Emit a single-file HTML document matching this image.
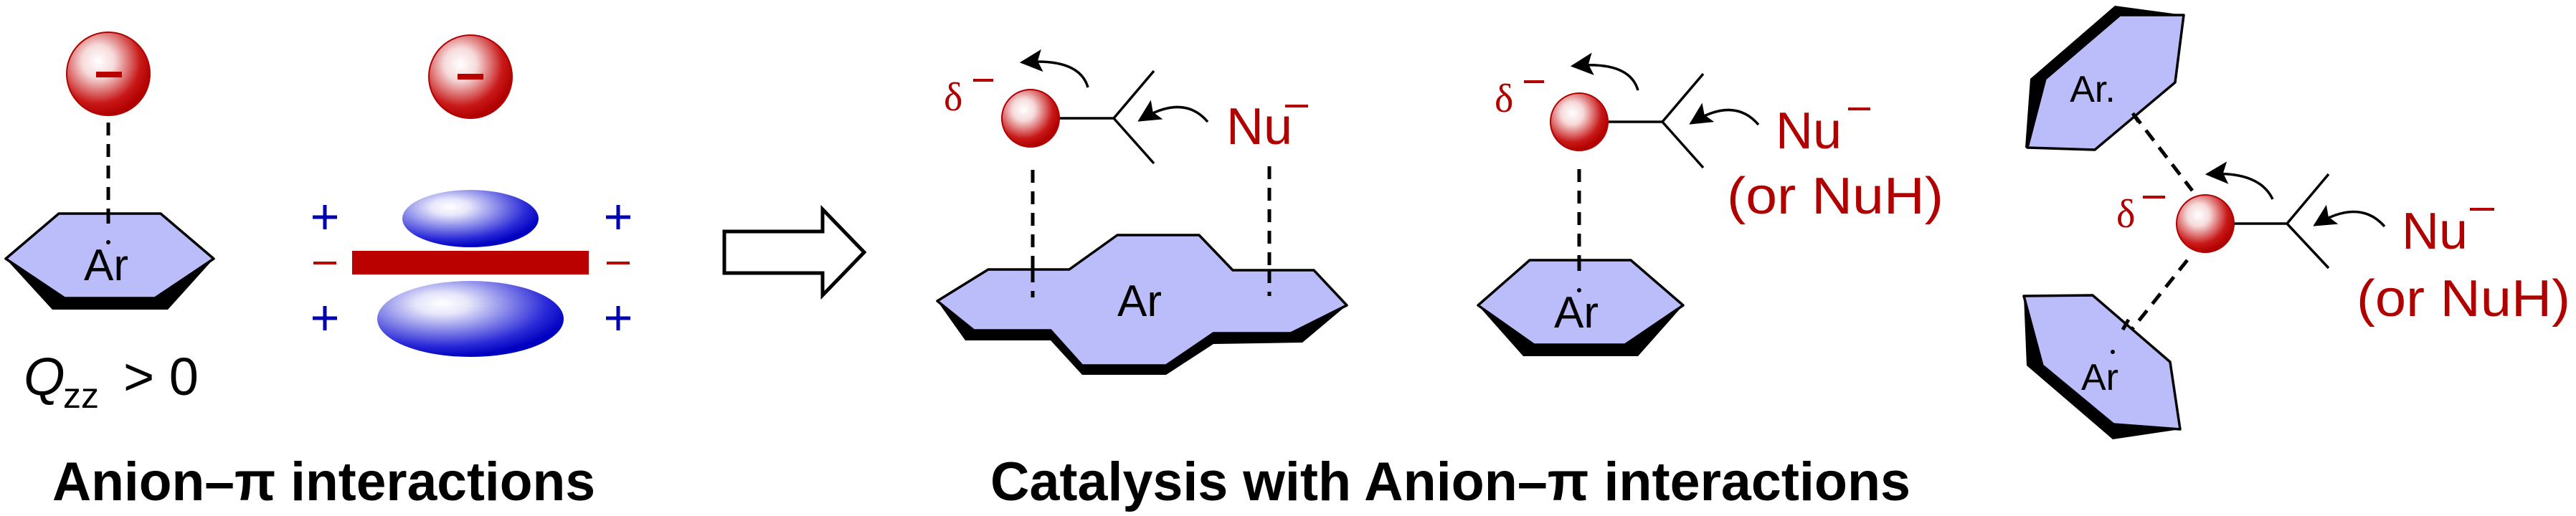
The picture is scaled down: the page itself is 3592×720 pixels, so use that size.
<!DOCTYPE html>
<html><head><meta charset="utf-8"><style>
html,body{margin:0;padding:0;background:#fff;}
svg{display:block;}
</style></head><body>
<svg width="3592" height="720" viewBox="0 0 3592 720" xmlns="http://www.w3.org/2000/svg">
<defs>
<radialGradient id="rb" cx="0.38" cy="0.35" r="0.65">
<stop offset="0" stop-color="#ffffff"/><stop offset="0.3" stop-color="#f6dada"/><stop offset="0.78" stop-color="#c81818"/><stop offset="1" stop-color="#b00000"/>
</radialGradient>
<radialGradient id="bb" cx="0.35" cy="0.3" r="0.7">
<stop offset="0" stop-color="#ffffff"/><stop offset="0.2" stop-color="#e6e6fb"/><stop offset="0.8" stop-color="#2a2ad8"/><stop offset="1" stop-color="#0000c0"/>
</radialGradient>
<marker id="ah" viewBox="0 0 10 10" refX="9" refY="5" markerWidth="9" markerHeight="9" orient="auto" markerUnits="strokeWidth">
<path d="M0,0 L10,5 L0,10 L2,5 z" fill="#000"/>
</marker>
</defs>
<g font-family="Liberation Sans, Arial, sans-serif">

<line x1="151" y1="171" x2="151" y2="340" stroke="#000" stroke-width="5" stroke-dasharray="18,12"/>
<polygon points="8,361 73,432 234,432 298,361 216,416 90,416" fill="#000"/>
<polygon points="8,361 82,298 224,298 298,361 216,416 90,416" fill="#bbbdfb" stroke="#000" stroke-width="3.5" stroke-linejoin="round"/>
<line x1="151" y1="298" x2="151" y2="312" stroke="#000" stroke-width="5"/>
<circle cx="151" cy="338" r="3" fill="#000"/>
<text x="148" y="391" font-size="62" text-anchor="middle">Ar</text>
<circle cx="151" cy="103" r="58" fill="url(#rb)" stroke="#b00000" stroke-width="2"/>
<rect x="134" y="100" width="36" height="8" fill="#b80000"/>
<text x="33" y="551" font-size="74" font-style="italic">Q</text>
<text x="88" y="569" font-size="50">zz</text>
<text x="172" y="551" font-size="74">&gt; 0</text>

<circle cx="656" cy="107" r="58" fill="url(#rb)" stroke="#b00000" stroke-width="2"/>
<rect x="638" y="103" width="36" height="8" fill="#b80000"/>
<ellipse cx="656" cy="305" rx="95" ry="40" fill="url(#bb)"/>
<rect x="491" y="350" width="330" height="33" fill="#bb0000"/>
<ellipse cx="656" cy="445" rx="130" ry="53" fill="url(#bb)"/>
<g stroke="#0000b0" stroke-width="5">
<line x1="436" y1="303" x2="470" y2="303"/><line x1="453" y1="286" x2="453" y2="320"/>
<line x1="436" y1="444" x2="470" y2="444"/><line x1="453" y1="427" x2="453" y2="461"/>
<line x1="845" y1="303" x2="879" y2="303"/><line x1="862" y1="286" x2="862" y2="320"/>
<line x1="845" y1="444" x2="879" y2="444"/><line x1="862" y1="427" x2="862" y2="461"/>
</g>
<g stroke="#bb0000" stroke-width="4">
<line x1="437" y1="367" x2="469" y2="367"/><line x1="846" y1="367" x2="878" y2="367"/>
</g>
<text x="73" y="698" font-size="76" font-weight="bold" textLength="757" lengthAdjust="spacingAndGlyphs">Anion–π interactions</text>

<polygon points="1010,323 1147,323 1147,292 1205,352 1147,412 1147,381 1010,381" fill="#fff" stroke="#000" stroke-width="5"/>

<g stroke="#000" stroke-width="5" stroke-dasharray="18,12">
<line x1="1440" y1="237" x2="1440" y2="415"/>
<line x1="1770" y1="232" x2="1770" y2="413"/>
</g>
<polygon points="1307,420 1346,475 1465,475 1509,523 1626,523 1692,480 1816,478 1878,426 1800,465 1692,465 1626,510 1509,510 1465,461 1358,461" fill="#000"/>
<polygon points="1307,420 1378,376 1491,376 1558,328 1672,328 1719,377 1832,377 1878,426 1800,465 1692,465 1626,510 1509,510 1465,461 1358,461" fill="#bbbdfb" stroke="#000" stroke-width="3.5" stroke-linejoin="round"/>
<g stroke="#000" stroke-width="5" stroke-dasharray="18,12">
<line x1="1440" y1="376" x2="1440" y2="415"/>
<line x1="1770" y1="377" x2="1770" y2="413"/>
</g>
<text x="1589" y="441" font-size="62" text-anchor="middle">Ar</text>
<g stroke="#000" stroke-width="3.5" fill="none">
<line x1="1477" y1="165" x2="1553" y2="165"/>
<line x1="1553" y1="165" x2="1609" y2="99"/>
<line x1="1553" y1="165" x2="1609" y2="228"/>
<path d="M1517,122 Q1505,80 1425,87" marker-end="url(#ah)"/>
<path d="M1684,170 Q1650,130 1589,168" marker-end="url(#ah)"/>
</g>
<circle cx="1437" cy="165" r="40" fill="url(#rb)" stroke="#b00000" stroke-width="2"/>
<g fill="#b00000">
<text x="1316" y="154" font-size="56" font-family="Liberation Serif, serif">δ</text>
<rect x="1357" y="110" width="28" height="4"/>
<text x="1710" y="201" font-size="72">Nu</text>
<rect x="1792" y="146" width="32" height="4"/>
</g>

<line x1="2202" y1="236" x2="2202" y2="376" stroke="#000" stroke-width="5" stroke-dasharray="18,12"/>
<polygon points="2061,426 2124,497 2284,497 2347,426 2266,481 2139,481" fill="#000"/>
<polygon points="2061,426 2133,363 2274,363 2347,426 2266,481 2139,481" fill="#bbbdfb" stroke="#000" stroke-width="3.5" stroke-linejoin="round"/>
<line x1="2202" y1="363" x2="2202" y2="378" stroke="#000" stroke-width="5"/>
<circle cx="2202" cy="405" r="3" fill="#000"/>
<text x="2198" y="457" font-size="62" text-anchor="middle">Ar</text>
<g stroke="#000" stroke-width="3.5" fill="none">
<line x1="2242" y1="170" x2="2318" y2="170"/>
<line x1="2318" y1="170" x2="2375" y2="103"/>
<line x1="2318" y1="170" x2="2375" y2="234"/>
<path d="M2284,126 Q2272,84 2193,92" marker-end="url(#ah)"/>
<path d="M2452,174 Q2418,134 2358,172" marker-end="url(#ah)"/>
</g>
<circle cx="2202" cy="170" r="40" fill="url(#rb)" stroke="#b00000" stroke-width="2"/>
<g fill="#b00000">
<text x="2084" y="156" font-size="56" font-family="Liberation Serif, serif">δ</text>
<rect x="2125" y="112" width="28" height="4"/>
<text x="2476" y="207" font-size="72">Nu</text>
<rect x="2577" y="150" width="31" height="4"/>
<text x="2408" y="298" font-size="72" textLength="302" lengthAdjust="spacingAndGlyphs">(or NuH)</text>
</g>

<g stroke="#000" stroke-width="5" stroke-dasharray="18,12">
<line x1="2974" y1="158" x2="3057" y2="266"/>
<line x1="3050" y1="363" x2="2950" y2="488"/>
</g>
<polygon points="2949,8 3045,21 2956,21 2852,110 2827,206 2824,206 2831,110" fill="#000"/>
<polygon points="2956,21 3045,21 3033,115 2921,209 2827,206 2852,110" fill="#bbbdfb" stroke="#000" stroke-width="3.5" stroke-linejoin="round"/>
<line x1="2974" y1="158" x2="2982" y2="170" stroke="#000" stroke-width="5"/>
<text x="2918" y="142" font-size="52" text-anchor="middle">Ar.</text>
<polygon points="2822,413 2848,510 2947,592 3040,599 2946,613 2826,510" fill="#000"/>
<polygon points="2822,413 2918,412 3026,505 3040,599 2947,592 2848,510" fill="#bbbdfb" stroke="#000" stroke-width="3.5" stroke-linejoin="round"/>
<line x1="2968" y1="446" x2="2960" y2="460" stroke="#000" stroke-width="5"/>
<circle cx="2946" cy="491" r="3" fill="#000"/>
<text x="2928" y="544" font-size="52" text-anchor="middle">Ar</text>
<g stroke="#000" stroke-width="3.5" fill="none">
<line x1="3114" y1="312" x2="3189" y2="312"/>
<line x1="3189" y1="312" x2="3247" y2="243"/>
<line x1="3189" y1="312" x2="3247" y2="374"/>
<path d="M3169,278 Q3150,238 3078,243" marker-end="url(#ah)"/>
<path d="M3325,316 Q3290,276 3228,314" marker-end="url(#ah)"/>
</g>
<circle cx="3075" cy="312" r="40" fill="url(#rb)" stroke="#b00000" stroke-width="2"/>
<g fill="#b00000">
<text x="2951" y="317" font-size="56" font-family="Liberation Serif, serif">δ</text>
<rect x="2988" y="273" width="31" height="4"/>
<text x="3349" y="347" font-size="72">Nu</text>
<rect x="3444" y="290" width="34" height="4"/>
<text x="3286" y="441" font-size="72" textLength="298" lengthAdjust="spacingAndGlyphs">(or NuH)</text>
</g>

<text x="1381" y="698" font-size="76" font-weight="bold" textLength="1283" lengthAdjust="spacingAndGlyphs">Catalysis with Anion–π interactions</text>
</g>
</svg>
</body></html>
